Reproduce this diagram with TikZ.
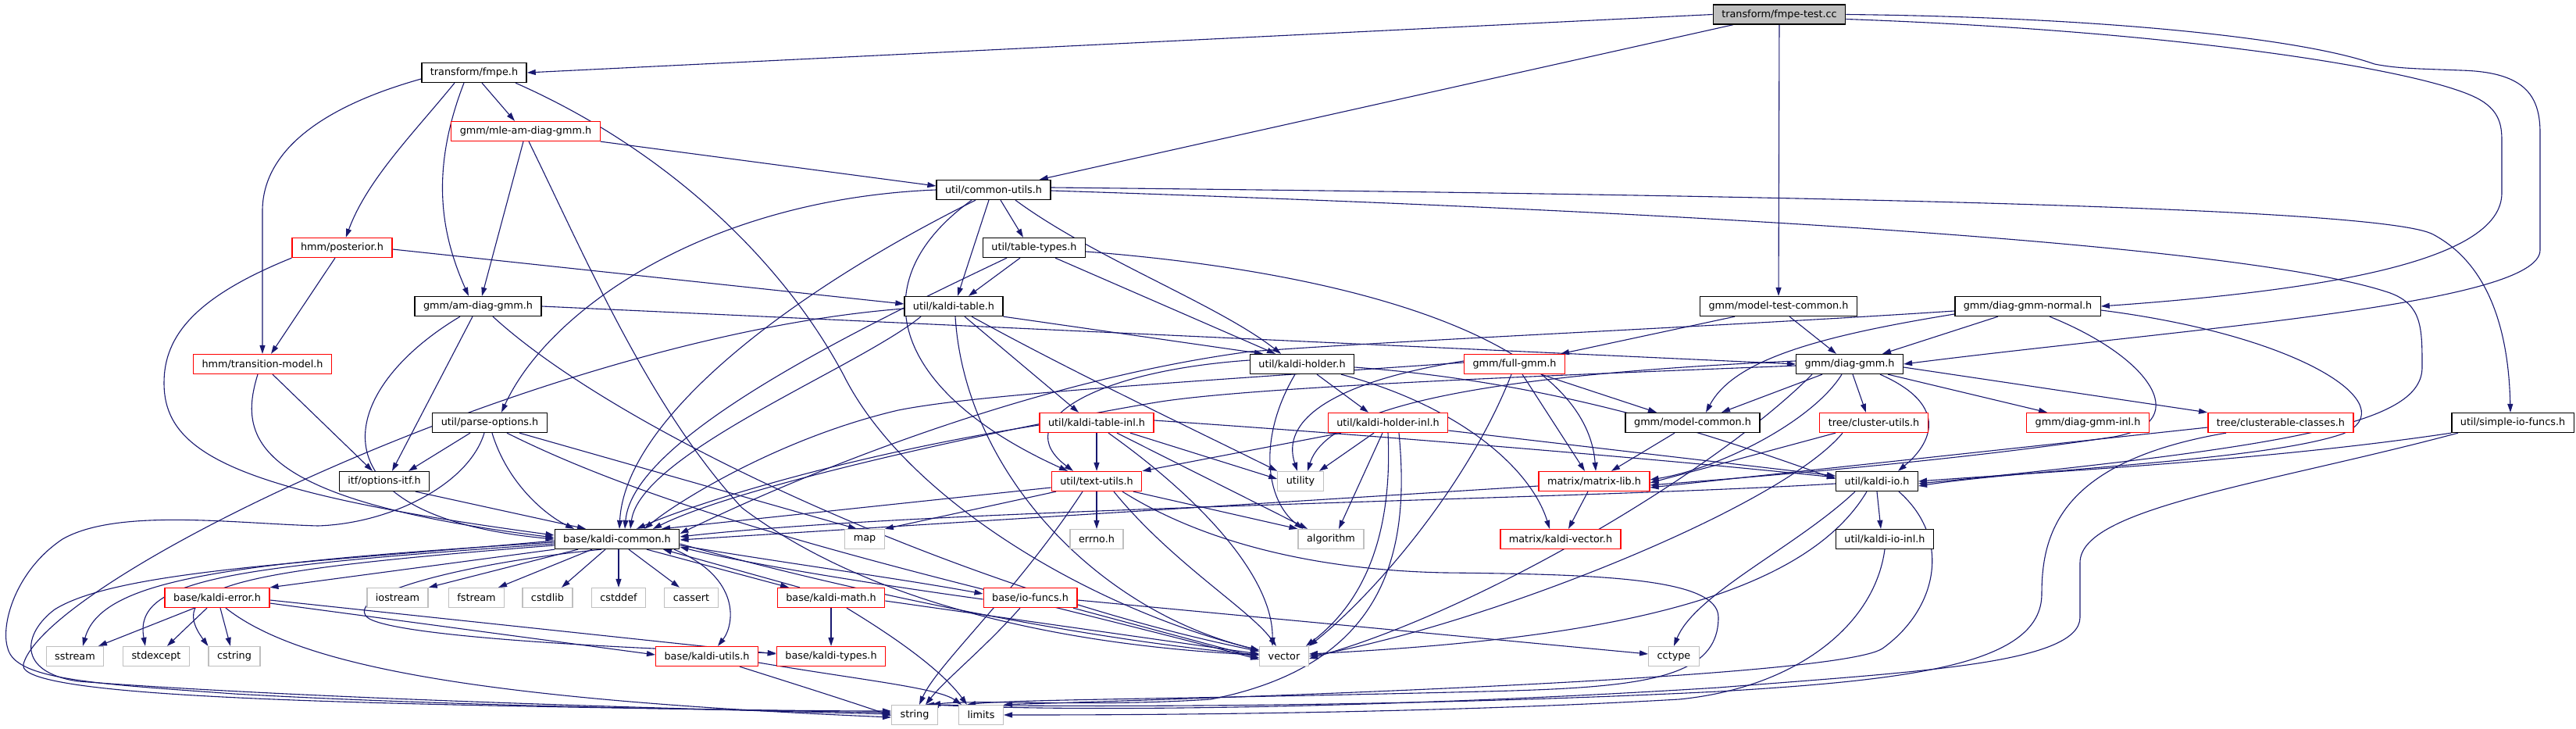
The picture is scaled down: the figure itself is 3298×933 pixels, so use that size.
\documentclass[tikz,border=0pt]{standalone}
\usepackage{fontspec}
\setmainfont{DejaVu Sans}
\usetikzlibrary{arrows.meta}
\pgfdeclarelayer{bg}
\pgfdeclarelayer{edges}
\pgfsetlayers{bg,edges,main}
\definecolor{edgec}{HTML}{191970}
\definecolor{grayb}{HTML}{BFBFBF}
\definecolor{redb}{HTML}{FF0000}
\definecolor{rootf}{HTML}{BFBFBF}
\newcommand{\ndfont}{\fontsize{12.8}{15}\selectfont}
\tikzset{
  nb/.style={draw=black, line width=1.3pt, fill=white, inner xsep=11pt, inner ysep=0pt, minimum height=25pt, font=\ndfont},
  nr/.style={nb, draw=redb},
  ng/.style={nb, draw=grayb},
  ed/.style={draw=edgec, line width=1.1pt, -{Triangle[length=11pt,width=7pt]}}
}
\begin{document}
\begin{tikzpicture}[x=1pt,y=-1pt]
\begin{pgfonlayer}{bg}
\fill[white] (0,0) rectangle (3298,933);
\end{pgfonlayer}
\useasboundingbox (0,0) rectangle (3298,933);
% nodes
\node[nb,fill=rootf] (root) at (2278,18.5) {transform/fmpe-test.cc};
\node[nb] (fmpe) at (607,93) {transform/fmpe.h};
\node[nr] (mle) at (673,168) {gmm/mle-am-diag-gmm.h};
\node[nr] (post) at (438,317) {hmm/posterior.h};
\node[nb] (amdiag) at (612,392) {gmm/am-diag-gmm.h};
\node[nr] (trans) at (336,466) {hmm/transition-model.h};
\node[nb] (cu) at (1272,243) {util/common-utils.h};
\node[nb] (tt) at (1324,317) {util/table-types.h};
\node[nb] (kt) at (1221,392) {util/kaldi-table.h};
\node[nb] (kh) at (1667,466) {util/kaldi-holder.h};
\node[nr] (fg) at (1939,466) {gmm/full-gmm.h};
\node[nb] (mtc) at (2277,392) {gmm/model-test-common.h};
\node[nb] (dgn) at (2596,392) {gmm/diag-gmm-normal.h};
\node[nb] (dg) at (2368,466) {gmm/diag-gmm.h};
\node[nb] (po) at (627,541) {util/parse-options.h};
\node[nb] (oi) at (492,616) {itf/options-itf.h};
\node[nb] (kc) at (790,690) {base/kaldi-common.h};
\node[nr] (ke) at (278,765) {base/kaldi-error.h};
\node[ng] (iostream) at (509,765) {iostream};
\node[ng] (fstream) at (610,765) {fstream};
\node[ng] (cstdlib) at (701,765) {cstdlib};
\node[ng] (cstddef) at (792,765) {cstddef};
\node[ng] (cassert) at (885,765) {cassert};
\node[nr] (km) at (1064,765) {base/kaldi-math.h};
\node[ng] (sstream) at (96,840) {sstream};
\node[ng] (stdexcept) at (200,840) {stdexcept};
\node[ng] (cstring) at (300,840) {cstring};
\node[nr] (ku) at (905,840) {base/kaldi-utils.h};
\node[nr] (kty) at (1064,840) {base/kaldi-types.h};
\node[nr] (kti) at (1404,541) {util/kaldi-table-inl.h};
\node[nr] (khi) at (1777,541) {util/kaldi-holder-inl.h};
\node[nb] (mc) at (2167,541) {gmm/model-common.h};
\node[nr] (tu) at (1404,616) {util/text-utils.h};
\node[ng] (utility) at (1665,616) {utility};
\node[nr] (ml) at (2041,616) {matrix/matrix-lib.h};
\node[ng] (map) at (1107,690) {map};
\node[ng] (errno) at (1404,690) {errno.h};
\node[ng] (algorithm) at (1704,690) {algorithm};
\node[nr] (kv) at (1998,690) {matrix/kaldi-vector.h};
\node[nr] (iof) at (1319,765) {base/io-funcs.h};
\node[ng] (vector) at (1644,840) {vector};
\node[ng] (cctype) at (2143,840) {cctype};
\node[ng] (string) at (1171,915) {string};
\node[ng] (limits) at (1256,915) {limits};
\node[nr] (cluu) at (2399,541) {tree/cluster-utils.h};
\node[nr] (dgi) at (2673,541) {gmm/diag-gmm-inl.h};
\node[nr] (clc) at (2920,541) {tree/clusterable-classes.h};
\node[nb] (sio) at (3217,541) {util/simple-io-funcs.h};
\node[nb] (kio) at (2403,616) {util/kaldi-io.h};
\node[nb] (kioi) at (2413,690) {util/kaldi-io-inl.h};
\begin{pgfonlayer}{edges}
% root
\draw[ed] (root.west) -- (fmpe.east);
\draw[ed] (root) -- (cu);
\draw[ed] (root) -- (mtc);
\draw[ed] ([yshift=-6pt]root.east) .. controls (2800,40) and (3100,90) .. (3170,125) .. controls (3200,140) and (3203,160) .. (3203,180) -- (3203,247) .. controls (3203,330) and (3000,370) .. (dgn.east);
\draw[ed] (root.east) .. controls (2700,22) and (2950,50) .. (3040,82) .. controls (3070,88) and (3100,88) .. (3150,90) .. controls (3230,92) and (3252,120) .. (3252,170) -- (3252,320) .. controls (3252,390) and (2800,420) .. (dg.east);
% fmpe
\draw[ed] ([yshift=-8pt]fmpe.west) .. controls (400,140) and (336,200) .. (336,270) -- (trans);
\draw[ed] ([xshift=-25pt]fmpe.south) .. controls (530,170) and (470,230) .. (post);
\draw[ed] ([xshift=-13pt]fmpe.south) .. controls (550,220) and (565,300) .. ([xshift=-12pt]amdiag.north);
\draw[ed] ([xshift=10pt]fmpe.south) -- ([xshift=-14pt]mle.north);
\draw[ed] ([xshift=53pt]fmpe.south) .. controls (850,190) and (1000,330) .. (1080,480) .. controls (1160,640) and (1400,780) .. (vector);
% mle
\draw[ed] ([xshift=-3pt]mle.south) -- ([xshift=5pt]amdiag.north);
\draw[ed] (mle.south east) -- ([yshift=5pt]cu.west);
\draw[ed] ([xshift=4pt]mle.south) .. controls (750,330) and (830,520) .. (950,650) .. controls (1150,800) and (1450,830) .. (vector);
% posterior
\draw[ed] ([xshift=-9pt]post.south) -- ([xshift=11pt]trans.north);
\draw[ed] (post.south west) .. controls (250,380) and (210,430) .. (210,490) .. controls (210,580) and (300,630) .. ([yshift=5pt]kc.west);
\draw[ed] ([yshift=-2pt]post.east) -- ([yshift=3pt]kt.west);
% transition-model
\draw[ed] ([xshift=13pt]trans.south) -- ([xshift=-15pt]oi.north);
\draw[ed] ([xshift=-6pt]trans.south) .. controls (305,560) and (320,640) .. ([yshift=2pt]kc.west);
% am-diag-gmm
\draw[ed] ([xshift=-23pt]amdiag.south) .. controls (430,500) and (390,660) .. (kc.west);
\draw[ed] ([xshift=-7pt]amdiag.south) -- ([xshift=10pt]oi.north);
\draw[ed] ([xshift=19pt]amdiag.south) .. controls (800,560) and (1250,760) .. (vector);
\draw[ed] (amdiag.east) -- (dg.west);
% common-utils
\draw[ed] (cu.west) .. controls (900,255) and (700,400) .. ([xshift=15pt]po.north);
\draw[ed] ([xshift=-23pt]cu.south) .. controls (1000,380) and (800,540) .. ([xshift=3pt]kc.north);
\draw[ed] ([xshift=-28pt]cu.south) .. controls (1100,360) and (1140,500) .. ([xshift=-37pt]tu.north);
\draw[ed] ([xshift=-6pt]cu.south) -- ([xshift=5pt]kt.north);
\draw[ed] ([xshift=9pt]cu.south) -- ([xshift=-14pt]tt.north);
\draw[ed] ([xshift=28pt]cu.south) .. controls (1400,330) and (1560,390) .. ([xshift=-27pt]kh.north);
\draw[ed] ([yshift=3pt]cu.east) .. controls (2300,250) and (3050,265) .. (3115,300) .. controls (3190,340) and (3212,430) .. ([xshift=-3pt]sio.north);
\draw[ed] ([yshift=-1pt]cu.east) .. controls (2300,275) and (2900,320) .. (3060,375) .. controls (3101,390) and (3101,420) .. (3101,470) .. controls (3101,540) and (2950,570) .. ([yshift=-3pt]kio.east);
% table-types
\draw[ed] ([xshift=-35pt]tt.south) .. controls (1100,420) and (810,560) .. ([xshift=10pt]kc.north);
\draw[ed] ([xshift=-18pt]tt.south) -- ([xshift=19pt]kt.north);
\draw[ed] ([xshift=27pt]tt.south) -- ([xshift=-34pt]kh.north);
\draw[ed] ([yshift=-5pt]tt.east) .. controls (1750,350) and (2030,440) .. ([xshift=2pt]ml.north);
% kaldi-table
\draw[ed] ([xshift=-42pt]kt.south) .. controls (1100,470) and (820,580) .. ([xshift=17pt]kc.north);
\draw[ed] ([yshift=-3pt]kt.west) .. controls (700,430) and (60,740) .. (30,850) .. controls (15,900) and (600,902) .. ([yshift=3pt]string.west);
\draw[ed] (kt.south east) -- ([xshift=-50pt]kh.north);
\draw[ed] ([xshift=14pt]kt.south) -- ([xshift=-23pt]kti.north);
\draw[ed] ([xshift=23pt]kt.south) .. controls (1380,480) and (1550,560) .. (utility.north west);
\draw[ed] ([xshift=2pt]kt.south) .. controls (1235,600) and (1400,780) .. (vector);
% kaldi-holder
\draw[ed] ([xshift=-9pt]kh.south) .. controls (1610,560) and (1620,640) .. ([xshift=-36pt]algorithm.north);
\draw[ed] ([xshift=19pt]kh.south) -- ([xshift=-25pt]khi.north);
\draw[ed] ([yshift=-4pt]kh.east) .. controls (2000,490) and (2200,560) .. ([yshift=3pt]kio.west);
\draw[ed] ([xshift=50pt]kh.south) .. controls (1870,520) and (1960,600) .. ([xshift=-14pt]kv.north);
\draw[ed] ([yshift=5pt]kh.west) .. controls (1400,475) and (1290,540) .. ([xshift=-30pt]tu.north);
% full-gmm
\draw[ed] ([yshift=4pt]fg.west) .. controls (1700,490) and (1640,540) .. ([xshift=-4pt]utility.north);
\draw[ed] ([xshift=-4pt]fg.south) .. controls (1880,620) and (1760,760) .. (vector.north east);
\draw[ed] ([xshift=10pt]fg.south) -- ([xshift=-12pt]ml.north);
\draw[ed] ([xshift=34pt]fg.south) -- ([xshift=-46pt]mc.north);
\draw[ed] ([yshift=2pt]fg.west) .. controls (1500,490) and (1250,505) .. (1150,525) .. controls (1000,560) and (870,640) .. ([xshift=35pt]kc.north);
% model-test-common
\draw[ed] ([xshift=-56pt]mtc.south) -- ([xshift=59pt]fg.north);
\draw[ed] ([xshift=14pt]mtc.south) -- ([xshift=-17pt]dg.north);
% diag-gmm-normal
\draw[ed] ([xshift=-38pt]dgn.south) -- ([xshift=42pt]dg.north);
\draw[ed] ([yshift=-6pt]dgn.west) .. controls (2200,418) and (1800,435) .. (1600,450) .. controls (1300,490) and (1000,620) .. ([yshift=7pt]kc.east);
\draw[ed] ([yshift=-10pt]dgn.west) .. controls (2330,430) and (2220,460) .. ([xshift=17pt]mc.north);
\draw[ed] ([xshift=28pt]dgn.south) .. controls (2760,460) and (2810,545) .. (2700,560) .. controls (2500,590) and (2250,610) .. ([yshift=-5pt]ml.east);
\draw[ed] ([yshift=-5pt]dgn.east) .. controls (2950,430) and (3080,520) .. (3000,555) .. controls (2900,590) and (2600,600) .. ([yshift=-6pt]kio.east);
% diag-gmm
\draw[ed] ([xshift=-35pt]dg.south) -- ([xshift=37pt]mc.north);
\draw[ed] ([xshift=4pt]dg.south) -- ([xshift=-10pt]cluu.north);
\draw[ed] ([xshift=49pt]dg.south) -- ([xshift=-52pt]dgi.north);
\draw[ed] ([yshift=-4pt]dg.east) -- ([xshift=-94pt]clc.north);
\draw[ed] ([xshift=39pt]dg.south) .. controls (2500,520) and (2470,570) .. ([xshift=27pt]kio.north);
\draw[ed] ([yshift=4pt]dg.west) .. controls (1900,480) and (1700,520) .. ([xshift=9pt]utility.north);
\draw[ed] ([yshift=-2pt]dg.west) .. controls (2000,480) and (1600,495) .. (1480,515) .. controls (1300,545) and (950,620) .. ([xshift=46pt]kc.north);
\draw[ed] ([xshift=-10pt]dg.south) .. controls (2320,540) and (2200,600) .. ([yshift=2pt]ml.east);
\draw[ed] ([xshift=-48pt]dg.south) .. controls (2200,600) and (1900,780) .. ([yshift=-3pt]vector.east);
% cluster-utils
\draw[ed] ([xshift=-49pt]cluu.south) -- ([yshift=-2pt]ml.east);
\draw[ed] ([xshift=-40pt]cluu.south) .. controls (2280,650) and (1900,800) .. (vector.east);
% clusterable-classes
\draw[ed] ([yshift=-6pt]clc.west) -- ([yshift=-8pt]ml.east);
\draw[ed] ([xshift=-70pt]clc.south) .. controls (2640,590) and (2614,680) .. (2614,760) .. controls (2614,850) and (2450,870) .. (2200,885) .. controls (1800,905) and (1400,905) .. ([xshift=14pt]string.north);
% simple-io-funcs
\draw[ed] (sio.south west) .. controls (2900,590) and (2600,605) .. (kio.east);
\draw[ed] ([xshift=-70pt]sio.south) .. controls (2900,620) and (2663,650) .. (2663,720) -- (2663,790) .. controls (2663,850) and (2450,860) .. (2200,880) .. controls (1800,905) and (1400,912) .. ([xshift=20pt]string.north);
% kaldi-io
\draw[ed] (kio.south) -- ([xshift=-5pt]kioi.north);
\draw[ed] ([yshift=-3pt]kio.west) .. controls (2000,640) and (1200,650) .. ([yshift=3pt]kc.east);
\draw[ed] ([xshift=-28pt]kio.south) .. controls (2300,700) and (2170,760) .. (cctype.north);
\draw[ed] ([xshift=-13pt]kio.south) .. controls (2300,780) and (2000,820) .. ([yshift=3pt]vector.east);
\draw[ed] ([xshift=28pt]kio.south) .. controls (2500,690) and (2480,780) .. (2410,830) .. controls (2350,870) and (1500,895) .. (limits.north east);
\draw[ed] (kioi.south) .. controls (2400,800) and (2300,880) .. (2150,895) .. controls (1800,915) and (1400,915) .. (limits.east);
% kaldi-table-inl
\draw[ed] (kti.south) -- (tu.north);
\draw[ed] ([xshift=43pt]kti.south) -- ([yshift=3pt]utility.west);
\draw[ed] ([xshift=26pt]kti.south) -- ([xshift=-30pt]algorithm.north);
\draw[ed] ([xshift=15pt]kti.south) .. controls (1540,640) and (1630,740) .. ([xshift=-15pt]vector.north);
\draw[ed] ([yshift=-3pt]kti.west) .. controls (1100,580) and (900,640) .. ([xshift=25pt]kc.north);
\draw[ed] ([yshift=3pt]kti.east) .. controls (1800,560) and (2150,590) .. ([yshift=5pt]kio.west);
% kaldi-holder-inl
\draw[ed] ([xshift=-60pt]khi.south) -- (tu.north east);
\draw[ed] ([xshift=-18pt]khi.south) -- ([xshift=24pt]utility.north);
\draw[ed] ([xshift=-7pt]khi.south) -- ([xshift=10pt]algorithm.north);
\draw[ed] (khi.south) .. controls (1782,660) and (1760,760) .. ([xshift=-4pt]vector.north east);
\draw[ed] ([xshift=14pt]khi.south) .. controls (1805,700) and (1780,850) .. (1550,895) .. controls (1400,905) and (1250,895) .. ([xshift=22pt]string.north);
\draw[ed] ([yshift=-10pt]khi.east) -- ([yshift=7pt]kio.west);
% text-utils
\draw[ed] (tu.south) -- (errno.north);
\draw[ed] ([xshift=-52pt]tu.south) -- (map.north east);
\draw[ed] ([xshift=-18pt]tu.south) .. controls (1300,760) and (1200,850) .. ([xshift=6pt]string.north);
\draw[ed] ([xshift=22pt]tu.south) .. controls (1500,720) and (1600,780) .. ([xshift=-10pt]vector.north);
\draw[ed] ([xshift=47pt]tu.south) -- (algorithm.north west);
\draw[ed] ([xshift=33pt]tu.south) .. controls (1550,700) and (1700,730) .. (1850,733) .. controls (2050,735) and (2200,740) .. (2200,790) .. controls (2200,870) and (2100,880) .. (1900,885) .. controls (1500,895) and (1300,895) .. ([xshift=-18pt]limits.north);
\draw[ed] ([yshift=-8pt]tu.west) -- ([xshift=57pt]kc.north);
% matrix-lib, model-common
\draw[ed] ([xshift=-8pt]ml.south) -- ([xshift=10pt]kv.north);
\draw[ed] ([yshift=-6pt]ml.west) -- ([yshift=-1pt]kc.east);
\draw[ed] ([xshift=-23pt]mc.south) -- ([xshift=22pt]ml.north);
% parse-options
\draw[ed] ([xshift=-25pt]po.south) -- ([xshift=31pt]oi.north);
\draw[ed] ([xshift=-7pt]po.south) .. controls (600,620) and (500,670) .. (407,673) .. controls (300,670) and (150,650) .. (80,690) .. controls (20,730) and (0,800) .. (10,830) .. controls (20,870) and (120,875) .. (300,888) .. controls (600,905) and (1000,910) .. ([yshift=5pt]string.west);
\draw[ed] ([xshift=3pt]po.south) .. controls (650,620) and (700,660) .. ([xshift=-55pt]kc.north);
\draw[ed] ([xshift=22pt]po.south) .. controls (900,680) and (1300,760) .. ([yshift=-4pt]vector.west);
\draw[ed] ([xshift=38pt]po.south) -- ([xshift=-10pt]map.north);
% options-itf
\draw[ed] ([xshift=40pt]oi.south) -- ([xshift=-40pt]kc.north);
% kaldi-common
\draw[ed] ([xshift=-50pt]kc.south) -- (iostream.north east);
\draw[ed] ([xshift=-32pt]kc.south) -- ([xshift=28pt]fstream.north);
\draw[ed] ([xshift=-15pt]kc.south) -- ([xshift=18pt]cstdlib.north);
\draw[ed] ([xshift=2pt]kc.south) -- (cstddef.north);
\draw[ed] ([xshift=15pt]kc.south) -- ([xshift=-15pt]cassert.north);
\draw[ed] ([xshift=-80pt]kc.south) -- (ke.north east);
\draw[ed] ([yshift=-4pt]kc.west) .. controls (300,720) and (130,740) .. ([xshift=10pt]sstream.north);
\draw[ed] ([yshift=-6pt]kc.west) .. controls (300,725) and (170,740) .. ([xshift=-14pt]stdexcept.north);
\draw[ed] ([yshift=-8pt]kc.west) .. controls (300,730) and (210,750) .. (cstring.north west);
\draw[ed] ([yshift=-2pt]kc.west) .. controls (400,720) and (150,730) .. (70,780) .. controls (30,810) and (20,860) .. (100,872) .. controls (400,895) and (900,908) .. ([yshift=1pt]string.west);
\draw[ed] ([yshift=-6pt]kc.east) .. controls (1100,760) and (1400,820) .. ([yshift=2pt]vector.west);
\draw[ed] ([xshift=73pt]kc.south) .. controls (950,740) and (940,800) .. ([xshift=14pt]ku.north);
\draw[ed] ([xshift=-20pt]kc.south) .. controls (600,720) and (440,760) .. (470,790) .. controls (500,815) and (800,830) .. ([yshift=4pt]kty.west);
\draw[ed] ([xshift=38pt]kc.south) -- ([xshift=-54pt]km.north);
\draw[ed] ([xshift=-40pt]km.north) -- ([xshift=59pt]kc.south);
\draw[ed] ([yshift=-8pt]kc.east) .. controls (1000,720) and (1150,740) .. ([yshift=5pt]iof.west);
\draw[ed] ([yshift=-2pt]iof.west) .. controls (1100,745) and (950,720) .. ([yshift=-10pt]kc.east);
% kaldi-error
\draw[ed] ([xshift=-29pt]ke.south) -- ([xshift=30pt]sstream.north);
\draw[ed] ([xshift=-13pt]ke.south) -- ([xshift=14pt]stdexcept.north);
\draw[ed] ([xshift=4pt]ke.south) -- ([xshift=-5pt]cstring.north);
\draw[ed] ([xshift=11pt]ke.south) .. controls (380,850) and (600,895) .. ([yshift=-3pt]string.west);
\draw[ed] ([yshift=-3pt]ke.east) -- ([yshift=3pt]kty.west);
\draw[ed] ([yshift=-7pt]ke.east) -- ([yshift=2pt]ku.west);
% kaldi-math
\draw[ed] (km.south) -- (kty.north);
\draw[ed] ([xshift=20pt]km.south) .. controls (1120,800) and (1200,850) .. ([xshift=-18pt]limits.north);
\draw[ed] ([yshift=-4pt]km.east) -- ([yshift=3pt]vector.west);
% kaldi-utils
\draw[ed] ([xshift=42pt]ku.south) .. controls (1000,870) and (1080,895) .. ([yshift=-1pt]string.west);
\draw[ed] ([yshift=-8pt]ku.east) .. controls (1100,870) and (1200,880) .. ([xshift=-25pt]limits.north);
% io-funcs
\draw[ed] ([yshift=-3pt]iof.east) -- ([yshift=3pt]cctype.west);
\draw[ed] ([xshift=55pt]iof.south) -- ([yshift=-2pt]vector.west);
\draw[ed] ([xshift=-13pt]iof.south) .. controls (1260,830) and (1210,870) .. ([xshift=14pt]string.north);
\end{pgfonlayer}
\end{tikzpicture}
\end{document}
